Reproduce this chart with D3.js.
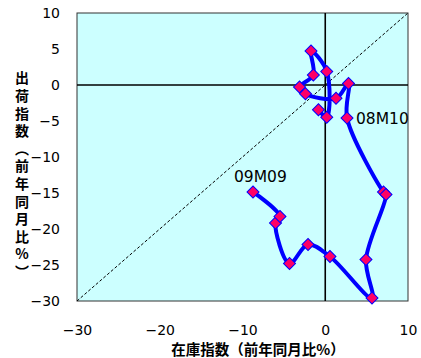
<!DOCTYPE html>
<html><head><meta charset="utf-8">
<script src="https://cdn.jsdelivr.net/npm/d3@7"></script>
<style>body{margin:0;background:#fff}</style>
</head><body>
<svg id="c" width="421" height="358"></svg>
<script>
// Inventory index YoY (%) – x values
const inventory = [-0.82, 0.18, 0.18, -1.72, -1.44, -3.11, -2.39, 1.30, 2.81, 2.63,
                   7.04, 7.34, 4.92, 5.65, 0.57, -2.08, -4.32, -6.01, -5.47, -8.73];
// Shipment index YoY (%) – y values
const shipments = [-3.44, -4.47, 1.88, 4.72, 1.39, -0.28, -1.22, -1.85, 0.21, -4.58,
                   -14.86, -15.21, -24.24, -29.58, -23.82, -22.15, -24.79, -19.17, -18.26, -14.86];
const pointLabels = ["", "", "", "", "", "", "", "", "", "08M10",
                     "", "", "", "", "", "", "", "", "", "09M09"];
const xTicks = [-30, -20, -10, 0, 10];
const yTicks = [10, 5, 0, -5, -10, -15, -20, -25, -30];
const xTitle = "在庫指数（前年同月比%）";
const yTitle = "出荷指数（前年同月比%）";

const svg = d3.select("#c");
const L = 77, R = 408, T = 13, B = 301;
const x = d3.scaleLinear().domain([-30, 10]).range([L, R]);
const y = d3.scaleLinear().domain([-30, 10]).range([B, T]);

svg.append("rect").attr("x", L).attr("y", T).attr("width", R - L).attr("height", B - T)
  .attr("fill", "#CCFFFF").attr("stroke", "#333").attr("stroke-width", 1);

// diagonal 45° line
svg.append("line").attr("x1", x(-30)).attr("y1", y(-30)).attr("x2", x(10)).attr("y2", y(10))
  .attr("stroke", "#000").attr("stroke-width", 1).attr("stroke-dasharray", "3,2");
// zero lines
svg.append("line").attr("x1", x(0)).attr("x2", x(0)).attr("y1", T).attr("y2", B)
  .attr("stroke", "#000").attr("stroke-width", 1.6);
svg.append("line").attr("x1", L).attr("x2", R).attr("y1", y(0)).attr("y2", y(0))
  .attr("stroke", "#000").attr("stroke-width", 1.6);

// axes labels via d3 axes (no tick lines)
const xAxis = svg.append("g").attr("transform", `translate(0,${B + 24})`)
  .call(d3.axisBottom(x).tickValues(xTicks).tickSize(0).tickPadding(0));
xAxis.select(".domain").remove();
xAxis.selectAll("text").attr("font-family", "DejaVu Sans").attr("font-size", 14).attr("fill", "#000");

const yAxis = svg.append("g").attr("transform", `translate(60,0)`)
  .call(d3.axisLeft(y).tickValues(yTicks).tickSize(0).tickPadding(0));
yAxis.select(".domain").remove();
yAxis.selectAll("text").attr("font-family", "DejaVu Sans").attr("font-size", 14).attr("fill", "#000");

// series
const pts = inventory.map((v, i) => [v, shipments[i]]);
const line = d3.line().x(d => x(d[0])).y(d => y(d[1])).curve(d3.curveCatmullRom.alpha(0.5));
svg.append("path").attr("d", line(pts)).attr("fill", "none")
  .attr("stroke", "#0000FF").attr("stroke-width", 4).attr("stroke-linejoin", "round");

svg.selectAll(".m").data(pts).join("path").attr("class", "m")
  .attr("transform", d => `translate(${x(d[0])},${y(d[1])}) rotate(45)`)
  .attr("d", d3.symbol().type(d3.symbolSquare).size(72))
  .attr("fill", "#FF0066").attr("stroke", "#0000FF").attr("stroke-width", 1);

// point labels
svg.selectAll(".pl").data(pts.map((d, i) => ({d, t: pointLabels[i], i})).filter(o => o.t))
  .join("text").attr("class", "pl")
  .attr("x", o => o.t === "08M10" ? x(o.d[0]) + 9 : x(o.d[0]) - 19)
  .attr("y", o => o.t === "08M10" ? y(o.d[1]) + 6 : y(o.d[1]) - 10)
  .attr("font-family", "DejaVu Sans").attr("font-size", 15.5).attr("fill", "#000")
  .text(o => o.t);

// x title
svg.append("text").attr("x", 258).attr("y", 355).attr("text-anchor", "middle")
  .attr("font-family", "Noto Sans CJK JP").attr("font-size", 14.5).attr("font-weight", "bold")
  .attr("fill", "#000").text(xTitle);

// y title (vertical writing)
svg.append("text").attr("x", 22).attr("y", 71)
  .attr("font-family", "Noto Sans CJK JP").attr("font-size", 14).attr("font-weight", "bold")
  .attr("fill", "#000")
  .style("writing-mode", "vertical-rl").style("text-orientation", "upright")
  .style("letter-spacing", "3.6px")
  .text(yTitle);
</script>
</body></html>
